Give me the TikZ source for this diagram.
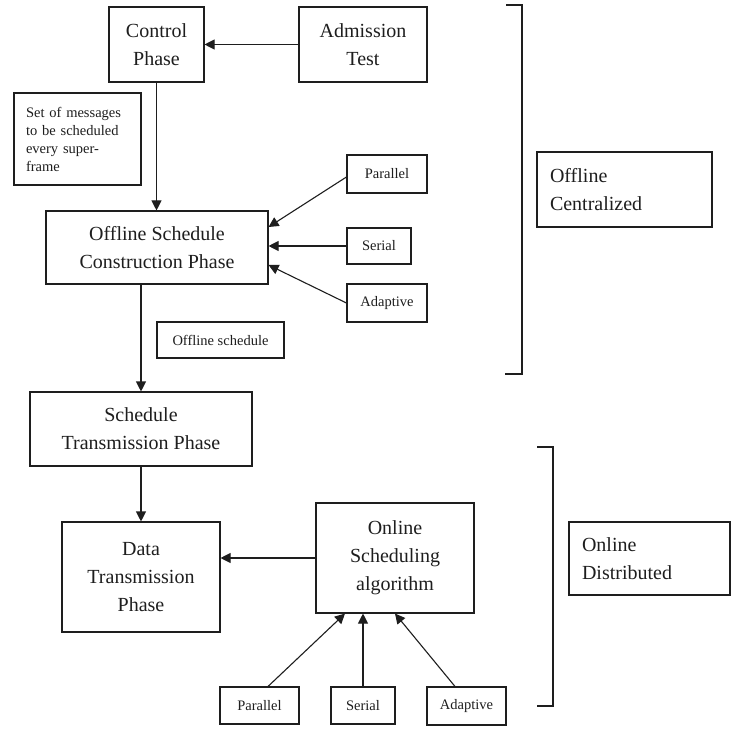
\documentclass[tikz,border=0pt]{standalone}
\usepackage{fontspec}
\setmainfont{Liberation Serif}
\usetikzlibrary{arrows.meta,calc}
\definecolor{ink}{HTML}{1E1E1E}
\begin{document}
\begin{tikzpicture}[x=1pt,y=-1pt,
  bigbox/.style={draw=ink, line width=1.1pt, align=center, inner sep=0pt, text=ink,
    font=\fontsize{20}{28}\selectfont},
  smallbox/.style={draw=ink, line width=1.1pt, align=center, inner sep=0pt, text=ink,
    font=\fontsize{14.5}{18}\selectfont},
  sidebox/.style={draw=ink, line width=1.1pt, align=left, inner xsep=13pt, inner ysep=0pt, text=ink,
    font=\fontsize{20}{28}\selectfont},
  arr/.style={draw=ink, line width=1.1pt, -{Triangle[length=10pt,width=10pt]}},
  brk/.style={draw=ink, line width=1.1pt}]
\useasboundingbox (0,0) rectangle (731,730);
\fill[white] (0,0) rectangle (731,730);

% top part
\node[bigbox, minimum width=95pt, minimum height=75pt] (ctrl) at (156.5,44.5) {Control\\Phase};
\node[bigbox, minimum width=128pt, minimum height=75pt] (adm) at (363,44.5) {Admission\\Test};
\node[smallbox, align=left, text width=103pt, inner xsep=12pt, minimum height=92pt] (msg) at (77.5,139)
  {Set of messages\\to be scheduled\\every super-\\frame};
\node[bigbox, minimum width=222pt, minimum height=73pt] (ofc) at (157,247.5) {Offline Schedule\\Construction Phase};
\node[smallbox, minimum width=80pt, minimum height=38pt] (par1) at (387,174) {Parallel};
\node[smallbox, minimum width=64pt, minimum height=36pt] (ser1) at (379,246) {Serial};
\node[smallbox, minimum width=80pt, minimum height=38pt] (ada1) at (387,303) {Adaptive};
\node[smallbox, minimum width=127pt, minimum height=36pt] (osch) at (220.5,340) {Offline schedule};
\node[bigbox, minimum width=222pt, minimum height=74pt] (stp) at (141,429) {Schedule\\Transmission Phase};

% bottom part
\node[bigbox, minimum width=158pt, minimum height=110pt] (dtp) at (141,577) {Data\\Transmission\\Phase};
\node[bigbox, minimum width=158pt, minimum height=110pt] (onl) at (395,558) {Online\\Scheduling\\algorithm};
\node[smallbox, minimum width=79pt, minimum height=37pt] (par2) at (259.5,705.5) {Parallel};
\node[smallbox, minimum width=64pt, minimum height=37pt] (ser2) at (363,705.5) {Serial};
\node[smallbox, minimum width=79pt, minimum height=38pt] (ada2) at (466.5,706) {Adaptive};

% side labels
\node[sidebox, text width=149pt, minimum height=75pt] (offc) at (624.5,189.5) {Offline\\Centralized};
\node[sidebox, text width=135pt, minimum height=73pt] (ond) at (649.5,558.5) {Online\\Distributed};

% brackets
\draw[brk] (506,5) -- (522,5) -- (522,374) -- (505,374);
\draw[brk] (537,447) -- (553,447) -- (553,706) -- (537,706);

% connectors
\draw[arr] (adm.west) -- (ctrl.east);
\draw[arr] (ctrl.south) -- (ctrl.south |- ofc.north);
\draw[arr] ($(par1.west)+(0,3)$) -- ($(ofc.east)+(0,-20.5)$);
\draw[arr] (ser1.west) -- (ser1.west -| ofc.east);
\draw[arr] (ada1.west) -- ($(ofc.east)+(0,17.5)$);
\draw[arr] (ofc.south -| stp.north) -- (stp.north);
\draw[arr] (stp.south) -- (dtp.north);
\draw[arr] (onl.west) -- (onl.west -| dtp.east);
\draw[arr] ($(par2.north)+(8.5,0)$) -- ($(onl.south)+(-50,0)$);
\draw[arr] (ser2.north) -- (ser2.north |- onl.south);
\draw[arr] ($(ada2.north)+(-11.5,0)$) -- (onl.south);
\end{tikzpicture}
\end{document}
